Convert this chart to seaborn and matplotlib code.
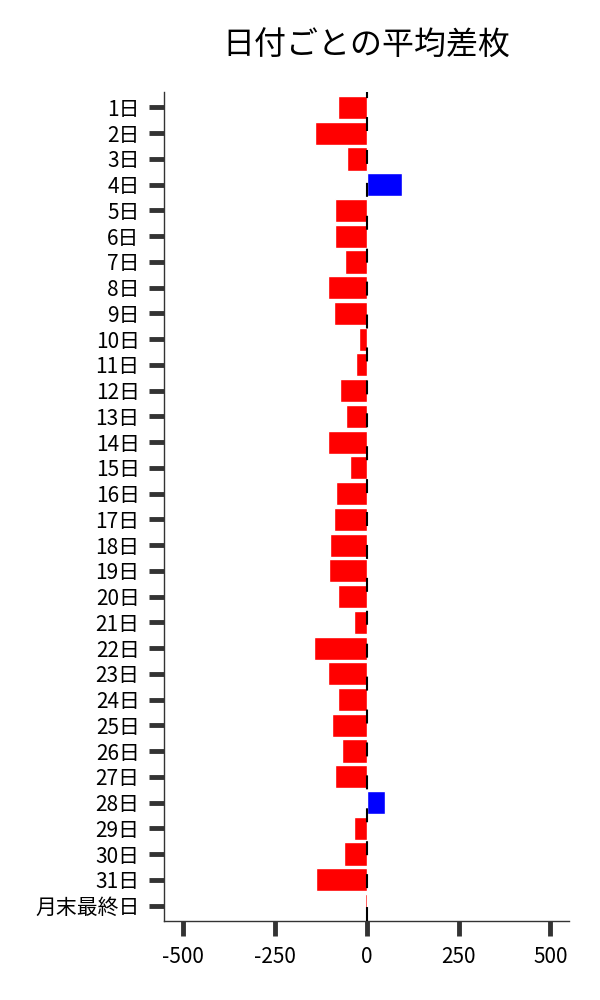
import matplotlib
matplotlib.use("Agg")
import matplotlib.pyplot as plt
import seaborn as sns
import pandas as pd

days = [f"{i}日" for i in range(1, 32)] + ["月末最終日"]
avg_diff = [-79, -141, -54, 95, -87, -87, -60, -106, -89, -22, -30,
            -73, -57, -106, -46, -84, -89, -100, -103, -79, -35, -144,
            -106, -79, -95, -68, -87, 51, -33, -62, -138, -5]
x_ticks = [-500, -250, 0, 250, 500]
title = "日付ごとの平均差枚"

df = pd.DataFrame({"day": days, "diff": avg_diff})
df["sign"] = ["pos" if v > 0 else "neg" for v in avg_diff]

sns.set_theme(style="white")
plt.rcParams["font.family"] = ["Noto Sans CJK JP", "DejaVu Sans"]

fig = plt.figure(figsize=(6, 10), dpi=100)
ax = fig.add_axes([0.274, 0.079, 0.674, 0.829])

sns.barplot(data=df, x="diff", y="day", hue="sign", orient="h",
            palette={"neg": "#ff0000", "pos": "#0000ff"},
            dodge=False, width=0.9, legend=False, errorbar=None,
            saturation=1, ax=ax, order=days)
ax.axvline(0, color="black", lw=1.5, dashes=(6.7, 9.1), zorder=3)

ax.set_xlim(-550, 550)
ax.set_ylim(len(days) - 0.4, -0.6)
ax.set_xticks(x_ticks)
ax.set_xticklabels([str(t) for t in x_ticks])
ax.set_xlabel("")
ax.set_ylabel("")
ax.set_title(title, fontsize=23, pad=27, color="black")
sns.despine(ax=ax)
for s in ["left", "bottom"]:
    ax.spines[s].set_color("#333333")
    ax.spines[s].set_linewidth(1.0)
ax.tick_params(axis="both", which="major", length=10.8, width=3.5,
               color="#333333", labelsize=15, pad=7, labelcolor="black")
ax.tick_params(axis="y", left=True)
ax.tick_params(axis="x", bottom=True)

fig.savefig("out.png", dpi=100)
